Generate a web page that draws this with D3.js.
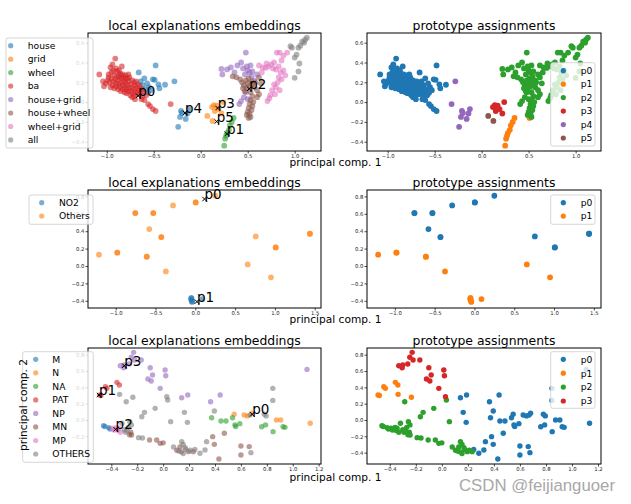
<!DOCTYPE html>
<html><head><meta charset="utf-8">
<script src="https://cdn.jsdelivr.net/npm/d3@7"></script>
<style>body{margin:0;background:#fff}svg{display:block;font-family:"DejaVu Sans",sans-serif}</style>
</head><body>
<script>
// ---------- DATA ----------
const palette = ["#1f77b4","#ff7f0e","#2ca02c","#d62728","#9467bd","#8c564b","#e377c2","#7f7f7f"];

// Row 1
const row1Classes = ["house","grid","wheel","ba","house+grid","house+wheel","wheel+grid","all"];
const row1ProtoNames = ["p0","p1","p2","p3","p4","p5"];
const row1ProtoPos = [[-0.666,0.064],[0.28,-0.32],[0.516,0.134],[0.18,-0.06],[-0.168,-0.11],[0.17,-0.196]];
// [x, y, class, prototype]
const row1Points = [
 // ba -> p0
 [-1.08,0.28,3,0],[-0.91,0.44,3,0],[-0.96,0.35,3,0],[-0.94,0.38,3,0],[-1.03,0.16,3,0],[-0.98,0.28,3,0],[-0.95,0.30,3,0],[-0.92,0.27,3,0],[-0.89,0.31,3,0],[-0.86,0.29,3,0],
 [-0.84,0.36,3,0],[-0.80,0.27,3,0],[-0.77,0.28,3,0],[-0.99,0.22,3,0],[-0.97,0.20,3,0],[-0.95,0.24,3,0],[-0.93,0.21,3,0],[-0.91,0.23,3,0],[-0.90,0.19,3,0],[-0.88,0.22,3,0],
 [-0.87,0.18,3,0],[-0.85,0.20,3,0],[-0.84,0.24,3,0],[-0.83,0.17,3,0],[-0.82,0.21,3,0],[-0.81,0.15,3,0],[-0.80,0.19,3,0],[-0.79,0.13,3,0],[-0.78,0.17,3,0],[-0.77,0.21,3,0],
 [-0.76,0.14,3,0],[-0.75,0.18,3,0],[-0.74,0.11,3,0],[-0.73,0.15,3,0],[-0.72,0.09,3,0],[-0.71,0.13,3,0],[-0.70,0.17,3,0],[-0.69,0.10,3,0],[-0.68,0.14,3,0],[-0.67,0.08,3,0],
 [-0.66,0.12,3,0],[-0.64,0.09,3,0],[-0.96,0.15,3,0],[-0.94,0.17,3,0],[-0.92,0.14,3,0],[-0.90,0.16,3,0],[-0.88,0.13,3,0],[-0.86,0.15,3,0],[-0.85,0.11,3,0],[-0.83,0.13,3,0],
 [-0.81,0.10,3,0],[-0.79,0.09,3,0],[-0.77,0.11,3,0],[-0.75,0.07,3,0],[-0.73,0.05,3,0],[-0.71,0.06,3,0],[-0.70,0.03,3,0],[-1.01,0.19,3,0],[-1.04,0.21,3,0],[-0.98,0.25,3,0],
 [-0.89,0.26,3,0],[-0.87,0.25,3,0],[-0.85,0.27,3,0],[-0.83,0.28,3,0],[-0.82,0.25,3,0],[-0.80,0.23,3,0],[-0.78,0.24,3,0],[-0.76,0.25,3,0],[-0.73,0.22,3,0],[-0.71,0.20,3,0],
 [-0.69,0.21,3,0],[-0.67,0.18,3,0],[-0.65,0.16,3,0],[-0.63,0.13,3,0],[-0.63,0.03,3,0],[-0.60,0.02,3,0],[-0.56,-0.02,3,0],[-0.54,-0.04,3,0],[-0.51,-0.07,3,0],[-0.48,-0.09,3,0],
 [-0.62,0.06,3,0],[-0.61,0.11,3,0],[-0.58,0.07,3,0],[-0.90,0.34,3,0],[-0.87,0.32,3,0],[-0.93,0.32,3,0],
 // house -> p0
 [-0.66,0.30,0,0],[-0.48,0.37,0,0],[-0.49,0.225,0,0],[-0.38,0.175,0,0],[-0.44,0.14,0,0],[-0.60,0.24,0,0],[-0.55,0.15,0,0],[-0.51,0.23,0,0],[-0.45,0.18,0,0],[-0.57,0.19,0,0],
 [-0.62,0.17,0,0],[-0.53,0.12,0,0],[-0.59,0.13,0,0],[-0.64,0.21,0,0],[-0.56,0.095,0,0],
 // house -> p4
 [-0.21,-0.09,0,4],[-0.125,-0.07,0,4],[-0.14,-0.115,0,4],[-0.22,-0.15,0,4],[-0.16,-0.17,0,4],[-0.24,-0.25,0,4],[-0.28,0.21,0,4],[-0.20,-0.11,0,4],
 [-0.32,-0.02,3,4],
 // grid -> p3 / p5
 [0.17,-0.035,1,3],[0.24,0.0,1,3],[0.12,-0.05,1,3],[0.15,-0.09,1,3],[0.22,-0.115,1,3],[0.19,-0.07,1,3],[0.14,-0.03,1,3],
 [0.07,-0.14,1,5],[0.125,-0.19,1,5],
 // wheel -> p1
 [0.25,-0.44,2,1],[0.26,-0.37,2,1],[0.28,-0.31,2,1],[0.30,-0.28,2,1],[0.31,-0.235,2,1],[0.33,-0.2,2,1],[0.35,-0.16,2,1],[0.27,-0.34,2,1],
 [0.51,-0.16,5,1],
 // house+grid -> p2
 [0.22,0.335,4,2],[0.23,0.28,4,2],[0.32,0.35,4,2],[0.43,0.40,4,2],[0.48,0.50,4,2],[0.39,0.37,4,2],[0.45,0.34,4,2],[0.50,0.32,4,2],[0.52,0.30,4,2],[0.55,0.31,4,2],
 [0.47,0.28,4,2],[0.54,0.26,4,2],[0.57,0.22,4,2],[0.49,0.36,4,2],[0.53,0.37,4,2],[0.41,-0.02,4,2],[0.43,0.01,4,2],[0.46,0.05,4,2],[0.48,0.10,4,2],[0.50,0.03,4,2],
 [0.36,0.30,4,2],[0.28,0.33,4,2],[0.60,0.28,4,2],
 // house+wheel -> p2
 [0.44,0.20,5,2],[0.46,0.17,5,2],[0.48,0.22,5,2],[0.50,0.19,5,2],[0.52,0.16,5,2],[0.54,0.21,5,2],[0.55,0.18,5,2],[0.57,0.15,5,2],[0.49,0.14,5,2],[0.51,0.24,5,2],
 [0.45,0.14,5,2],[0.58,0.20,5,2],[0.60,0.12,5,2],[0.62,0.08,5,2],[0.60,0.05,5,2],[0.34,0.26,5,2],[0.38,0.25,5,2],[0.42,0.23,5,2],[0.47,0.11,5,2],[0.53,0.10,5,2],
 [0.55,0.06,5,2],[0.53,0.02,5,2],[0.52,-0.02,5,2],[0.51,-0.06,5,2],[0.50,-0.10,5,2],[0.52,-0.12,5,2],[0.54,-0.08,5,2],[0.55,-0.04,5,2],[0.49,-0.13,5,2],[0.53,-0.15,5,2],
 [0.56,0.0,5,2],[0.64,0.19,5,2],[0.62,0.25,5,2],
 // wheel+grid -> p2
 [0.69,0.345,6,2],[0.72,0.36,6,2],[0.75,0.38,6,2],[0.78,0.40,6,2],[0.81,0.50,6,2],[0.84,0.50,6,2],[0.88,0.47,6,2],[0.92,0.50,6,2],[0.86,0.42,6,2],[0.83,0.36,6,2],
 [0.80,0.33,6,2],[0.77,0.34,6,2],[0.85,0.30,6,2],[0.86,0.23,6,2],[0.83,0.25,6,2],[0.80,0.15,6,2],[0.78,0.18,6,2],[0.76,0.12,6,2],[0.74,0.07,6,2],[0.71,0.01,6,2],
 [0.73,0.04,6,2],[0.82,0.20,6,2],[0.88,0.32,6,2],[0.90,0.27,6,2],[0.79,0.08,6,2],[0.84,0.12,6,2],[0.66,0.35,6,2],[0.70,0.39,6,2],[0.62,0.37,6,2],[0.65,0.30,6,2],
 // all -> p2
 [1.11,0.63,7,2],[1.13,0.65,7,2],[1.08,0.61,7,2],[1.04,0.55,7,2],[0.955,0.565,7,2],[1.0,0.45,7,2],[1.05,0.39,7,2],[1.04,0.31,7,2],[1.0,0.245,7,2],[1.06,0.57,7,2],
 [1.02,0.48,7,2],[0.97,0.55,7,2],[1.10,0.60,7,2]
];

// Row 2
const row2Classes = ["NO2","Others"];
const row2ProtoNames = ["p0","p1"];
const row2ProtoPos = [[0.116,0.77],[0.02,-0.41]];
const row2Points = [
 [-0.754,0.609,1,0],[-0.754,0.609,1,0],[-0.528,0.609,1,0],[-0.528,0.609,1,0],[-0.28,0.697,1,0],[0.005,0.731,1,0],[0.005,0.731,1,0],[0.25,0.808,1,0],
 [-0.578,0.425,1,0],[-0.427,0.333,1,0],[-0.427,0.333,1,0],[0.759,0.34,1,0],[1.01,0.214,1,0],[1.01,0.214,1,0],[1.44,0.371,1,0],[1.44,0.371,1,0],
 [-1.21,0.13,1,1],[-0.98,0.153,1,1],[-0.98,0.153,1,1],[-0.61,0.107,1,1],[-0.61,0.107,1,1],[-0.37,-0.062,1,1],[0.658,0.018,1,1],[0.95,-0.13,1,1],
 [-0.05,-0.37,0,1],[-0.05,-0.37,0,1],[-0.04,-0.41,0,1],[-0.04,-0.41,0,1],[-0.05,-0.39,0,1],[0.088,-0.38,0,1]
];

// Row 3
const row3Classes = ["M","N","NA","PAT","NP","MN","MP","OTHERS"];
const row3ProtoNames = ["p0","p1","p2","p3"];
const row3ProtoPos = [[0.687,0.07],[-0.495,0.306],[-0.367,-0.114],[-0.30,0.665]];
const row3Points = [
 // -> p3
 [-0.228,0.829,4,3],[-0.246,0.768,4,3],[-0.221,0.735,4,3],[-0.169,0.735,4,3],[-0.331,0.665,4,3],[-0.30,0.673,4,3],[-0.262,0.686,4,3],[-0.305,0.64,4,3],
 [-0.10,0.64,4,3],[-0.082,0.551,4,3],[0.015,0.612,4,3],[0.02,0.542,4,3],[-0.118,0.502,4,3],[-0.092,0.478,4,3],[-0.023,0.388,4,3],[0.028,0.285,7,3],
 // -> p1
 [-0.49,0.306,3,1],[-0.48,0.30,3,1],[-0.446,0.408,3,1],[-0.434,0.388,3,1],[-0.357,0.461,3,1],[-0.338,0.428,3,1],[-0.336,0.314,7,1],[-0.234,0.278,7,1],
 // -> p2
 [-0.285,0.224,7,2],[-0.062,0.143,7,2],[0.035,0.245,7,2],[-0.144,0.094,7,2],[-0.165,0.04,7,2],[0.058,-0.02,7,2],
 [-0.46,-0.07,0,2],[-0.45,-0.08,0,2],[-0.42,-0.094,0,2],[-0.41,-0.11,0,2],
 [-0.38,-0.122,6,2],[-0.344,-0.10,6,2],[-0.33,-0.15,6,2],[-0.36,-0.09,6,2],[-0.35,-0.13,6,2],[-0.39,-0.10,6,2],
 [-0.318,-0.04,7,2],[-0.29,-0.15,7,2],[-0.257,-0.02,7,2],[-0.245,-0.06,7,2],[-0.30,-0.12,7,2],[-0.27,-0.09,7,2],[-0.28,-0.13,7,2],
 [-0.26,-0.18,5,2],[-0.244,-0.184,5,2],[-0.25,-0.15,5,2],
 [-0.19,-0.216,7,2],[-0.16,-0.22,7,2],[-0.105,-0.245,5,2],[-0.05,-0.245,5,2],[-0.023,-0.286,5,2],[0.0,-0.28,5,2],
 [0.08,-0.33,7,2],[0.105,-0.37,5,2],[0.143,-0.265,7,2],[0.155,-0.30,7,2],[0.17,-0.34,7,2],[0.195,-0.388,5,2],[0.155,-0.41,7,2],[0.233,-0.388,5,2],
 [0.12,-0.38,7,2],[0.13,-0.33,5,2],[0.175,-0.36,7,2],[0.14,-0.39,5,2],[0.21,-0.37,7,2],
 // -> p0
 [0.143,0.273,4,0],[0.19,0.306,4,0],[0.164,0.094,7,0],[0.187,-0.029,7,0],[0.366,0.224,4,0],[0.44,0.306,4,0],[0.395,0.11,7,0],[0.374,0.028,2,0],
 [0.446,-0.012,2,0],[0.485,-0.012,2,0],[0.472,-0.163,5,0],[0.535,0.028,2,0],[0.548,0.07,1,0],[0.554,-0.06,2,0],[0.56,-0.08,2,0],[0.592,-0.045,2,0],
 [0.625,0.061,1,0],[0.65,0.05,1,0],[0.682,0.082,1,0],[0.67,0.06,7,0],[0.78,0.07,7,0],[0.795,0.05,7,0],[0.76,-0.082,2,0],[0.79,-0.06,2,0],
 [0.848,-0.143,2,0],[0.874,0.0,1,0],[0.907,0.0,1,0],[0.925,-0.082,2,0],[0.94,-0.09,2,0],[1.135,-0.04,1,0],[0.335,-0.265,7,0],[0.382,-0.204,5,0],
 [0.395,-0.298,5,0],[0.323,-0.367,7,0],[0.284,-0.408,7,0],[0.245,-0.36,7,0],[0.43,-0.477,5,0],[0.60,-0.318,5,0],[0.664,-0.326,5,0],[0.60,-0.428,5,0],
 [0.677,-0.40,7,0],[0.846,0.388,7,0],[0.846,0.24,7,0],[1.11,0.62,4,0]
];

// Ticks
const row1XTicks = [-1.0,-0.5,0.0,0.5,1.0];
const row1YTicks = [-0.4,-0.2,0.0,0.2,0.4,0.6];
const row2XTicks = [-1.0,-0.5,0.0,0.5,1.0,1.5];
const row2YTicks = [-0.4,-0.2,0.0,0.2,0.4,0.6,0.8];
const row3XTicks = [-0.4,-0.2,0.0,0.2,0.4,0.6,0.8,1.0,1.2];
const row3YTicks = [-0.4,-0.2,0.0,0.2,0.4,0.6,0.8];

const titleLeft = "local explanations embeddings";
const titleRight = "prototype assignments";
const xLabel = "principal comp. 1";
const yLabel = "principal comp. 2";
const watermark = "CSDN @feijianguoer";

// ---------- DRAW ----------
const W = 631, H = 504;
const svg = d3.select("body").append("svg").attr("width", W).attr("height", H);
const fmt = d3.format(".1f");

function drawPanel(p) {
  const g = svg.append("g");
  const x = d3.scaleLinear().domain(p.xd).range([p.x0, p.x1]);
  const y = d3.scaleLinear().domain(p.yd).range([p.y1, p.y0]);
  const pts = d3.sort(p.pts, d => d[p.ci]);
  g.append("g").selectAll("circle").data(pts).join("circle")
    .attr("cx", d => x(d[0])).attr("cy", d => y(d[1])).attr("r", p.r)
    .attr("fill", d => palette[d[p.ci]]).attr("fill-opacity", p.alpha);

  if (p.protos) {
    const pg = g.append("g");
    p.protos.forEach((c, i) => {
      const cx = x(c[0]), cy = y(c[1]), s = 2.2;
      pg.append("path").attr("d", `M${cx-s},${cy-s}L${cx+s},${cy+s}M${cx-s},${cy+s}L${cx+s},${cy-s}`)
        .attr("stroke", "#000").attr("stroke-width", 1).attr("fill", "none");
      pg.append("text").attr("x", cx).attr("y", cy).attr("font-size", 13.5).attr("fill", "#000").text(p.protoNames[i]);
    });
  }

  const xa = g.append("g").attr("transform", `translate(0,${p.y1})`)
    .call(d3.axisBottom(x).tickValues(p.xt).tickSize(2.5).tickPadding(1.2).tickFormat(fmt));
  const ya = g.append("g").attr("transform", `translate(${p.x0},0)`)
    .call(d3.axisLeft(y).tickValues(p.yt).tickSize(2.5).tickPadding(1.2).tickFormat(fmt));
  [xa, ya].forEach(a => {
    a.select(".domain").remove();
    a.attr("font-family", "DejaVu Sans").attr("font-size", 5.3);
    a.selectAll("line").attr("stroke", "#000").attr("stroke-width", 0.7);
    a.selectAll("text").attr("fill", "#222");
  });
  g.append("rect").attr("x", p.x0).attr("y", p.y0).attr("width", p.x1 - p.x0).attr("height", p.y1 - p.y0)
    .attr("fill", "none").attr("stroke", "#000").attr("stroke-width", 1);

  g.append("text").attr("x", (p.x0 + p.x1) / 2).attr("y", p.y0 - 3).attr("text-anchor", "middle")
    .attr("font-size", 12.4).attr("fill", "#000").text(p.title);

  const L = p.legend;
  const lg = g.append("g");
  lg.append("rect").attr("x", L.x).attr("y", L.y).attr("width", L.w).attr("height", L.h).attr("rx", 2)
    .attr("fill", "#fff").attr("fill-opacity", 0.8).attr("stroke", "#cccccc").attr("stroke-width", 0.8);
  L.labels.forEach((lab, i) => {
    const yy = L.first + i * L.step;
    lg.append("circle").attr("cx", L.mx).attr("cy", yy).attr("r", 2.6)
      .attr("fill", palette[i]).attr("fill-opacity", p.alpha);
    lg.append("text").attr("x", L.tx).attr("y", yy).attr("dy", "0.36em").attr("font-size", 9.2)
      .attr("fill", "#000").text(lab);
  });
}

const rows = [
  {y0: 33, y1: 151, yd: [-0.494, 0.698], xdL: [-1.2, 1.28], xdR: [-1.22, 1.27], xt: row1XTicks, yt: row1YTicks,
   pts: row1Points, classes: row1Classes, protoNames: row1ProtoNames, protos: row1ProtoPos, r: 2.9,
   legL: {x: 6, y: 38, w: 87, h: 110, first: 45.7, step: 13.46, mx: 10.7, tx: 27.7},
   legR: {x: 550.7, y: 62.7, w: 44.3, h: 83.3, first: 70.7, step: 13.46, mx: 563.3, tx: 580.7}, xl: 166},
  {y0: 190, y1: 308, yd: [-0.483, 0.874], xdL: [-1.348, 1.579], xdR: [-1.35, 1.59], xt: row2XTicks, yt: row2YTicks,
   pts: row2Points, classes: row2Classes, protoNames: row2ProtoNames, protos: row2ProtoPos, r: 2.9,
   legL: {x: 29, y: 195, w: 64, h: 29.3, first: 202.7, step: 13.4, mx: 41.7, tx: 59},
   legR: {x: 550.7, y: 195, w: 44.3, h: 29.3, first: 202.7, step: 13.4, mx: 563.3, tx: 580.7}, xl: 323},
  {y0: 348, y1: 464, yd: [-0.539, 0.882], xdL: [-0.58, 1.218], xdR: [-0.575, 1.223], xt: row3XTicks, yt: row3YTicks,
   pts: row3Points, classes: row3Classes, protoNames: row3ProtoNames, protos: row3ProtoPos, r: 2.7,
   legL: {x: 22.7, y: 351.7, w: 70.6, h: 110.6, first: 359.3, step: 13.53, mx: 35.7, tx: 52.3},
   legR: {x: 550.7, y: 351.7, w: 44.3, h: 56.6, first: 359.3, step: 13.9, mx: 563.3, tx: 580.7}, xl: 481}
];

rows.forEach(R => {
  drawPanel({x0: 88, x1: 321, y0: R.y0, y1: R.y1, xd: R.xdL, yd: R.yd, xt: R.xt, yt: R.yt, pts: R.pts, ci: 2,
    alpha: 0.6, r: R.r, protos: R.protos, protoNames: R.protoNames, title: titleLeft,
    legend: Object.assign({labels: R.classes}, R.legL)});
  drawPanel({x0: 367, x1: 601, y0: R.y0, y1: R.y1, xd: R.xdR, yd: R.yd, xt: R.xt, yt: R.yt, pts: R.pts, ci: 3,
    alpha: 1, r: R.r, protos: null, title: titleRight,
    legend: Object.assign({labels: R.protoNames}, R.legR)});
  svg.append("text").attr("x", 335.5).attr("y", R.xl).attr("text-anchor", "middle").attr("font-size", 10.6)
    .attr("fill", "#000").text(xLabel);
});

svg.append("text").attr("transform", "translate(27,405) rotate(-90)").attr("text-anchor", "middle")
  .attr("font-size", 10.6).attr("fill", "#000").text(yLabel);

svg.append("text").attr("x", 459).attr("y", 491).attr("font-family", "Liberation Sans, Arial, sans-serif")
  .attr("font-size", 16.8).attr("fill", "#a8a8a8").text(watermark);
</script>
</body></html>
